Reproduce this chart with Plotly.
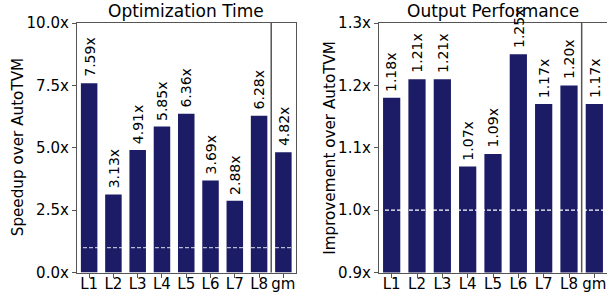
import plotly.graph_objects as go

categories = ["L1", "L2", "L3", "L4", "L5", "L6", "L7", "L8", "gm"]
opt_speedup = [7.59, 3.13, 4.91, 5.85, 6.36, 3.69, 2.88, 6.28, 4.82]
out_perf = [1.18, 1.21, 1.21, 1.07, 1.09, 1.25, 1.17, 1.20, 1.17]
left_ticks = [0.0, 2.5, 5.0, 7.5, 10.0]
right_ticks = [0.9, 1.0, 1.1, 1.2, 1.3]
titles = ["Optimization Time", "Output Performance"]
ytitles = ["Speedup over AutoTVM", "Improvement over AutoTVM"]

W, H = 607, 292
BAR = "#1c1c66"
SPINE = "#555555"
FONT = "DejaVu Sans"

xl = [77 / W, 295.5 / W]
xr = [379 / W, 1.0]
yd = [(H - 272.5) / H, (H - 23) / H]

fig = go.Figure()
fig.add_trace(go.Bar(x=list(range(len(categories))), y=opt_speedup, marker_color=BAR,
                     marker_line_width=0, xaxis="x", yaxis="y", width=0.68))
fig.add_trace(go.Bar(x=list(range(len(categories))), y=out_perf, marker_color=BAR,
                     marker_line_width=0, xaxis="x2", yaxis="y2", width=0.68))

axis_common = dict(showline=True, linecolor=SPINE, linewidth=1.3, mirror=True,
                   ticks="outside", ticklen=4, tickwidth=1.1, tickcolor=SPINE,
                   showgrid=False, zeroline=False, automargin=False,
                   tickfont=dict(family=FONT, size=15, color="black"))
xaxis_extra = dict(ticklabelstandoff=-7)

fig.update_layout(
    width=W, height=H, margin=dict(l=0, r=0, t=0, b=0, autoexpand=False),
    plot_bgcolor="white", paper_bgcolor="white", showlegend=False,
    bargap=0.3,
    xaxis=dict(domain=xl, range=[-0.5, 8.5], tickvals=list(range(len(categories))),
               ticktext=categories, anchor="y", **axis_common, **xaxis_extra),
    yaxis=dict(domain=yd, range=[0, 10], tickvals=left_ticks,
               ticktext=[f"{v:.1f}x" for v in left_ticks], anchor="x", **axis_common),
    xaxis2=dict(domain=xr, range=[-0.5, 8.5], tickvals=list(range(len(categories))),
                ticktext=categories, anchor="y2", **axis_common, **xaxis_extra),
    yaxis2=dict(domain=yd, range=[0.9, 1.3], tickvals=right_ticks,
                ticktext=[f"{v:.1f}x" for v in right_ticks], anchor="x2", **axis_common),
)

shapes = []
# reference lines at 1.0x
shapes.append(dict(type="line", xref="x domain", yref="y", x0=0, x1=1, y0=1, y1=1,
                   line=dict(color="rgba(255,255,255,0.7)", width=1.3, dash="4px,2px"), layer="above"))
shapes.append(dict(type="line", xref="x2 domain", yref="y2", x0=0, x1=1, y0=1, y1=1,
                   line=dict(color="white", width=1.3, dash="4px,2px"), layer="above"))
# separators before gm
for xa, ya in (("x", "y"), ("x2", "y2")):
    shapes.append(dict(type="line", xref=xa, yref=ya + " domain", x0=7.5, x1=7.5, y0=0, y1=1,
                       line=dict(color=SPINE, width=1.5), layer="above"))
fig.update_layout(shapes=shapes)

ann = []
for i, v in enumerate(opt_speedup):
    ann.append(dict(x=i, y=v, xref="x", yref="y", text=f"{v:.2f}x", textangle=-90,
                    showarrow=False, xanchor="center", yanchor="bottom", yshift=4,
                    font=dict(family=FONT, size=14, color="black")))
for i, v in enumerate(out_perf):
    ann.append(dict(x=i, y=v, xref="x2", yref="y2", text=f"{v:.2f}x", textangle=-90,
                    showarrow=False, xanchor="center", yanchor="bottom", yshift=4,
                    font=dict(family=FONT, size=14, color="black")))
for dom, t in zip((xl, xr), titles):
    ann.append(dict(x=(dom[0] + dom[1]) / 2, y=(H - 11) / H, xref="paper", yref="paper",
                    text=t, showarrow=False, xanchor="center", yanchor="middle",
                    font=dict(family=FONT, size=17, color="black")))
for xc, t in zip((17.5, 330), ytitles):
    ann.append(dict(x=xc / W, y=(yd[0] + yd[1]) / 2, xref="paper", yref="paper",
                    text=t, textangle=-90, showarrow=False, xanchor="center", yanchor="middle",
                    font=dict(family=FONT, size=15.2, color="black")))
fig.update_layout(annotations=ann)

fig.write_html("out.html", config={"displayModeBar": False},
               post_script="document.body.style.margin='0';document.body.style.overflow='hidden';")
